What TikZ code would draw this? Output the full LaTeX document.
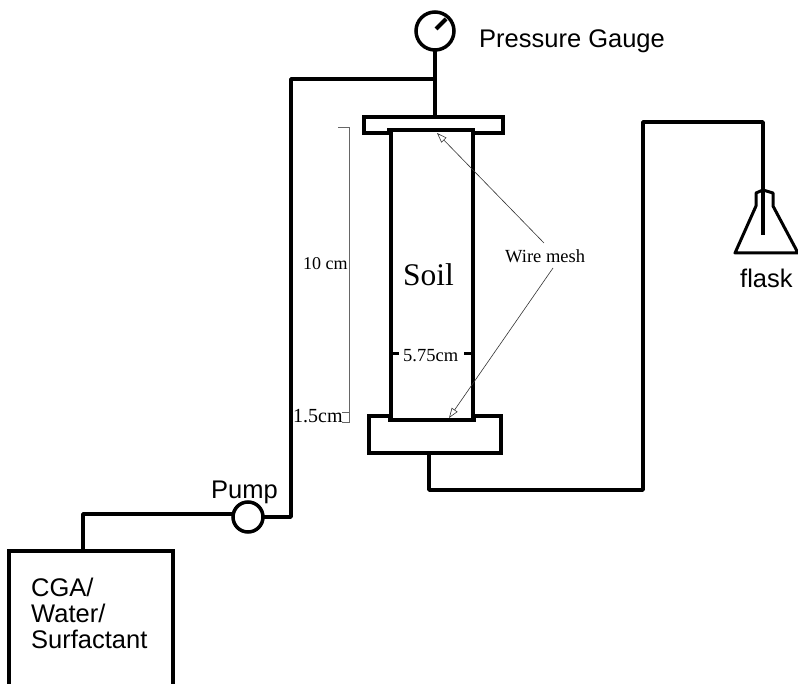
\documentclass[tikz,border=0pt]{standalone}
\usepackage{fontspec}
\setmainfont{Liberation Sans}
\newfontfamily\serifname{Liberation Serif}
\usetikzlibrary{arrows.meta}
\tikzstyle{vessel} = [rectangle, minimum width=10pt, minimum height=10pt, inner sep=0pt, outer sep=0pt, draw=black, line width=3.5pt, fill=white]
\tikzstyle{dial} = [circle, inner sep=0pt, outer sep=0pt, draw=black, line width=3.5pt, fill=white]
\tikzstyle{pipe} = [line width=3.5pt, line join=round]
\tikzstyle{sanstext} = [anchor=base west, inner sep=0pt, font=\fontsize{25.5}{26}\selectfont]
\tikzstyle{seriftext} = [anchor=base west, inner sep=0pt, font=\serifname\fontsize{18.5}{20}\selectfont]
\tikzstyle{dimline} = [line width=0.7pt, black!60]
\tikzstyle{arrow} = [line width=0.6pt, black!80, -{Triangle[open,length=10pt,width=7pt]}]

\begin{document}
\begin{tikzpicture}[x=1pt, y=-1pt]
    \useasboundingbox (0,0) rectangle (798,684);
    \clip (0,0) rectangle (798,684);
    \node (flangetop) [vessel, minimum width=139pt, minimum height=16pt] at (433.5,125) {};
    \node (flangebot) [vessel, minimum width=132pt, minimum height=37pt] at (435,434.5) {};
    \node (column) [vessel, minimum width=82pt, minimum height=290pt] at (432,275) {};
    \node (tank) [vessel, minimum width=164pt, minimum height=150pt, anchor=north west] at (9,551) {};
    % pipe corners
    \coordinate (tee) at (435,79);
    \coordinate (bendtop) at (291,79);
    \coordinate (bendpump) at (291,517);
    \coordinate (outlet) at (429,453);
    \coordinate (bendout) at (429,490);
    \coordinate (bendup) at (643,490);
    \coordinate (bendtube) at (643,122);
    \coordinate (bendflask) at (763,122);
    \coordinate (tubeend) at (763,235);
    \coordinate (tankout) at (83,551);
    \coordinate (bendtank) at (83,514);
    \coordinate (pumpin) at (233,514);
    \coordinate (needletip) at (446,19);
    \coordinate (needlefoot) at (436,29);
    \coordinate (flaskneck) at (763,190);
    \coordinate (gaugefoot) at (435,50);
    % labels
    \node (gaugetext) [sanstext] at (479,48) {Pressure Gauge};
    \node (flasktext) [sanstext] at (740,288) {flask};
    \node (pumptext) [sanstext] at (211,498) {Pump};
    \node (tanktext1) [sanstext] at (31,596) {CGA/};
    \node (tanktext2) [sanstext] at (31,622) {Water/};
    \node (tanktext3) [sanstext] at (31,648) {Surfactant};
    \node (soil) [seriftext, font=\serifname\fontsize{31.5}{32}\selectfont] at (403,286) {Soil};
    \node (mesh) [seriftext] at (505,263) {Wire mesh};
    \node (width) [seriftext] at (403,362) {5.75cm};
    \node (ten) [seriftext, font=\serifname\fontsize{18}{20}\selectfont] at (303,270) {10 cm};
    \node (onefive) [seriftext, font=\serifname\fontsize{20}{20}\selectfont] at (293,423) {1.5cm};
    % pipes
    \draw [pipe] (gaugefoot) -- (gaugefoot |- flangetop.north);
    \draw [pipe] (tee) -- (bendtop) -- (bendpump) -- (248,517);
    \draw [pipe] (outlet) -- (bendout) -- (bendup) -- (bendtube) -- (bendflask) -- (tubeend);
    \draw [pipe] (tankout) -- (bendtank) -- (pumpin);
    % dials on top of the pipes
    \node (gauge) [dial, minimum size=38pt] at (435,31) {};
    \draw [pipe, line width=4pt] (needlefoot) -- (needletip);
    \node (pump) [dial, minimum size=30pt] at (248,517) {};
    % wire mesh and width marks
    \draw [pipe] ([xshift=-4pt]column.north west) -- ([xshift=2pt]column.north east);
    \draw [pipe] ([xshift=-3pt]column.south west) -- ([xshift=3pt]column.south east);
    \draw [pipe, line width=3pt] ([yshift=-79pt]column.center -| column.west) -- ++(8,0);
    \draw [pipe, line width=3pt] ([yshift=-79pt]column.center -| column.east) -- ++(-9,0);
    % flask
    \draw [line width=3pt, line join=round] (flaskneck) -- (756,193) -- (756,206) -- (735,253) -- (798,253) -- (773,206) -- (773,193) -- (flaskneck);
    % dimensions
    \draw [dimline] (338,127) -- (349,127) -- (349,412) -- (342,412);
    \draw [dimline] (349,412) -- (349,422) -- (342,422);
    % arrows
    \draw [arrow] (544,243) -- (437,133);
    \draw [arrow] (553,268) -- (449,418);
\end{tikzpicture}
\end{document}
